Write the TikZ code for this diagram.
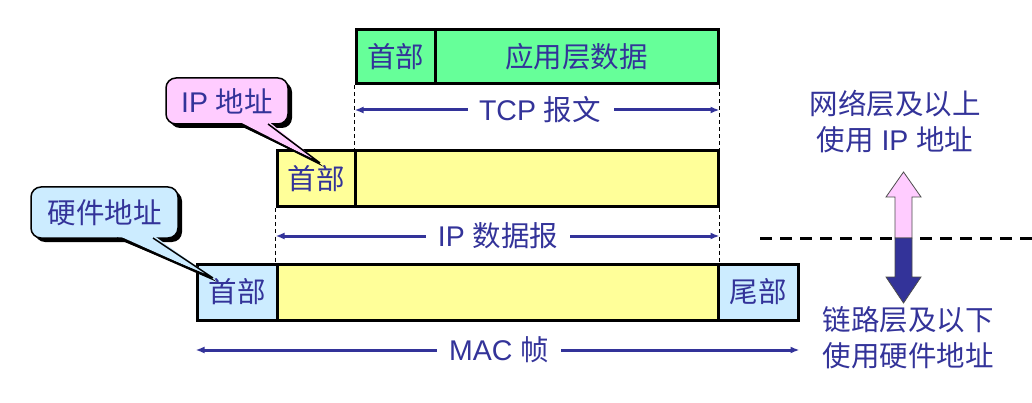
\documentclass[tikz,border=0pt]{standalone}
\usepackage{fontspec}
\setmainfont{Liberation Sans}
\newfontfamily\cjk{Noto Sans CJK SC}
\usetikzlibrary{arrows.meta}
\definecolor{txt}{HTML}{333399}
\definecolor{grn}{HTML}{66FF99}
\definecolor{ylw}{HTML}{FFFF99}
\definecolor{lbl}{HTML}{CCECFF}
\definecolor{pnk}{HTML}{FFCCFF}
\tikzset{
  fld/.style={draw=black, line width=3pt, inner sep=0pt, text=txt, font=\fontsize{28.5}{32}\selectfont\cjk},
  dimtext/.style={text=txt, inner sep=0pt, font=\fontsize{28.5}{32}\selectfont},
  dimline/.style={draw=txt, line width=3pt, -{Latex[length=9pt,width=7pt]}},
  guide/.style={draw=black, line width=0.9pt, dash pattern=on 4pt off 3pt},
  callout/.style={draw=black, line width=1.5pt, rounded corners=10pt, inner sep=0pt, text=txt, font=\fontsize{28.5}{32}\selectfont},
  sidetext/.style={text=txt, align=center, inner sep=0pt, font=\fontsize{28.5}{36}\selectfont},
}
\begin{document}
\begin{tikzpicture}[x=1pt, y=-1pt]
\useasboundingbox (0,0) rectangle (1032,403);

% TCP segment
\node[fld, fill=grn, minimum width=79pt, minimum height=54pt] (tcph) at (395.5,57) {首部};
\node[fld, fill=grn, minimum width=283pt, minimum height=54pt] (tcpd) at (576.5,57) {应用层数据};

% IP datagram
\node[fld, fill=ylw, minimum width=78pt, minimum height=56pt] (iph) at (316,179) {首部};
\node[fld, fill=ylw, minimum width=363pt, minimum height=56pt] (ipd) at (536.5,179) {};

% MAC frame
\node[fld, fill=lbl, minimum width=80pt, minimum height=56pt] (mach) at (237,292) {首部};
\node[fld, fill=ylw, minimum width=441pt, minimum height=56pt] (macd) at (497.5,292) {};
\node[fld, fill=lbl, minimum width=80pt, minimum height=56pt] (mact) at (758,292) {尾部};

% guide lines
\draw[guide] (tcph.south west) -- (tcph.south west |- ipd.north);
\draw[guide] (tcpd.south east) -- (tcpd.south east |- ipd.north);
\draw[guide] (iph.south west) -- (iph.south west |- macd.north);
\draw[guide] (ipd.south east) -- (ipd.south east |- macd.north);

% dimension labels
\node[dimtext] (tcplab) at (540,110) {TCP {\cjk 报文}};
\draw[dimline] ([xshift=-11pt]tcplab.west) -- (tcph.south west |- tcplab);
\draw[dimline] ([xshift=13pt]tcplab.east) -- (tcpd.south east |- tcplab);

\node[dimtext] (iplab) at (498,236) {IP {\cjk 数据报}};
\draw[dimline] ([xshift=-12pt]iplab.west) -- (iph.south west |- iplab);
\draw[dimline] ([xshift=12pt]iplab.east) -- (ipd.south east |- iplab);

\node[dimtext] (maclab) at (499,350) {MAC {\cjk 帧}};
\draw[dimline] ([xshift=-12pt]maclab.west) -- (mach.south west |- maclab);
\draw[dimline] ([xshift=12pt]maclab.east) -- (mact.south east |- maclab);

% callout: IP address
\coordinate (iptip) at (320,163);
\fill[black, rounded corners=10pt] (170,82) rectangle (292,128);
\fill[black] (242,126) -- (324,167) -- (272,126) -- cycle;
\node[callout, fill=pnk, minimum width=122pt, minimum height=46pt] (ipa) at (227,101) {IP {\cjk 地址}};
\fill[pnk] (238,121) -- (iptip) -- (268,121) -- cycle;
\draw[black, line width=1.5pt] (238,124) -- (iptip) -- (268,124);

% callout: hardware address
\coordinate (hwtip) at (213,278);
\fill[black, rounded corners=10pt] (35,191) rectangle (182,242);
\fill[black] (121,240) -- (217,282) -- (157,240) -- cycle;
\node[callout, fill=lbl, minimum width=147pt, minimum height=51pt] (hwa) at (104.5,212.5) {\cjk 硬件地址};
\fill[lbl] (117,235) -- (hwtip) -- (153,235) -- cycle;
\draw[black, line width=1.5pt] (117,238) -- (hwtip) -- (153,238);

% right side
\node[sidetext] (upper) at (895,122) {{\cjk 网络层及以上}\\{\cjk 使用} IP {\cjk 地址}};
\node[sidetext] (lower) at (908,338) {\cjk 链路层及以下\\\cjk 使用硬件地址};

\coordinate (dl) at (760,238);
\coordinate (dr) at (1032,238);
\draw[black, line width=3pt, dash pattern=on 12pt off 8pt] (dl) -- (dr);

\draw[fill=pnk, draw=black!70, line width=0.8pt] (903.5,172) -- (921,197) -- (912,197) -- (912,238) -- (895,238) -- (895,197) -- (886,197) -- cycle;
\draw[fill=txt, draw=black!70, line width=0.8pt] (895,238) -- (912,238) -- (912,277) -- (921,277) -- (903.5,303) -- (886,277) -- (895,277) -- cycle;
\end{tikzpicture}
\end{document}
